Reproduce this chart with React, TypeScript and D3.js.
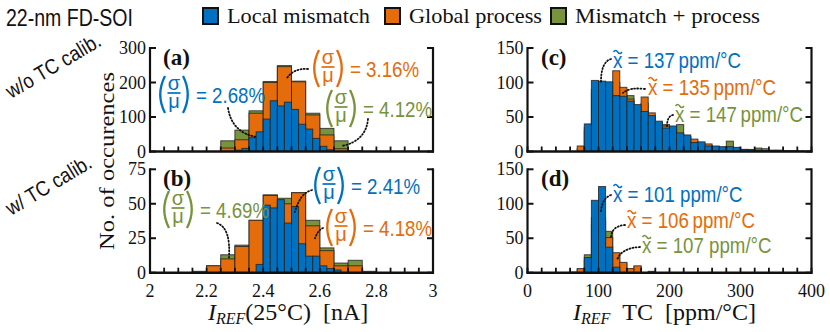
import React from 'react';
import * as d3 from 'd3';

const BLUE = '#0070C0';
const ORANGE = '#E46C0A';
const GREEN = '#77933C';
const SANS = '"Liberation Sans", Arial, sans-serif';
const SERIF = '"Liberation Serif", "Times New Roman", serif';

const legendLabels = ['Local mismatch', 'Global process', 'Mismatch + process'];
const rowLabels = ['w/o TC calib.', 'w/ TC calib.'];

// Panel (a): I_REF(25°C) without TC calibration
const aLocalStart = 2.3;
const aLocalWidth = 0.025;
const aLocal = [4, 9, 40, 57, 94, 147, 132, 143, 122, 79, 65, 38, 15, 5];
const aProcStart = 2.25;
const aProcWidth = 0.05;
const aGlobal = [10, 34, 111, 200, 246, 202, 106, 48, 8, 2];
const aBoth = [31, 62, 118, 203, 249, 204, 111, 67, 31, 2];

// Panel (b): I_REF(25°C) with TC calibration
const bLocalStart = 2.375;
const bLocalWidth = 0.025;
const bLocal = [6, 49, 47, 53, 36, 48, 21, 12, 12, 5, 3, 2];
const bGlobalStart = 2.2;
const bGlobal = [5, 10, 19, 38, 56, 50, 58, 34, 16, 5, 5];
const bBothStart = 2.15;
const bBoth = [1, 5, 13, 20, 38, 56.5, 54, 58, 38, 18, 7, 9, 1];
const bProcWidth = 0.05;

// Panel (c): TC without calibration (10 ppm/°C bins from 70)
const cStart = 70;
const cWidth = 10;
const cLocal = [0, 40, 103, 102, 101, 81, 80, 73, 68, 58, 52, 44, 34, 37, 27, 24, 13, 14, 8, 8, 7, 7, 6, 3, 2, 2, 1, 1, 1, 1, 0, 0];
const cGlobal = [8, 35, 90, 95, 97, 117, 93, 76, 65, 79, 56, 40, 37, 30, 25, 20, 18, 10, 11, 6, 5, 5, 4, 2, 2, 1, 1, 1, 1, 0, 1, 0];
const cBoth = [4, 30, 85, 90, 95, 100, 90, 81, 66, 70, 50, 42, 39, 35, 39, 22, 15, 12, 9, 7, 6, 15, 5, 3, 3, 5, 4, 2, 2, 1, 1, 1];

// Panel (d): TC with calibration (10 ppm/°C bins from 60)
const dStart = 60;
const dWidth = 10;
const dLocal = [0, 0, 22, 105, 125, 37, 8, 0, 0, 0, 0, 0];
const dGlobal = [0, 6, 18, 70, 80, 51, 29, 15, 6, 10, 0, 2];
const dBoth = [1, 5, 26, 80, 75, 60, 28, 14, 5, 9, 0, 1];

const yTicksA = [0, 100, 200, 300];
const yTicksB = [0, 25, 50, 75];
const yTicksC = [0, 50, 100, 150];
const yTicksD = [0, 50, 100, 150];
const xTicksAB = [2, 2.2, 2.4, 2.6, 2.8, 3];
const xTicksCD = [0, 100, 200, 300, 400];

const sigmaLabels = { a: ['2.68%', '3.16%', '4.12%'], b: ['2.41%', '4.18%', '4.69%'] };
const medianLabels = { c: ['137', '135', '147'], d: ['101', '106', '107'] };

type Scale = d3.ScaleLinear<number, number>;

function binsOf(start: number, width: number, values: number[]) {
  return values.map((v, i) => ({ x0: start + i * width, x1: start + (i + 1) * width, v }));
}

function Bars({ data, x, y, color }: { data: { x0: number; x1: number; v: number }[]; x: Scale; y: Scale; color: string }) {
  return (
    <g>
      {data.filter(d => d.v > 0).map((d, i) => (
        <rect key={i} x={x(d.x0)} y={y(d.v)} width={x(d.x1) - x(d.x0)} height={y(0) - y(d.v)}
          fill={color} stroke="#222" strokeOpacity={0.8} strokeWidth={1} />
      ))}
    </g>
  );
}

function Frame({ x, y, yTicks, minor, xLabels, fmt }: { x: Scale; y: Scale; yTicks: number[]; minor: number[]; xLabels: number[] | null; fmt: (v: number) => string }) {
  const [x0, x1] = x.range();
  const [y0, y1] = y.range();
  const tl = 6;
  return (
    <g>
      {minor.map((v, i) => (
        <line key={'m' + i} x1={x(v)} x2={x(v)} y1={y0} y2={y0 - 5} stroke="#111" strokeWidth={1.8} />
      ))}
      {yTicks.map((v, i) => (
        <g key={'y' + i}>
          <line x1={x0} x2={x0 + tl} y1={y(v)} y2={y(v)} stroke="#111" strokeWidth={2} />
          <line x1={x1} x2={x1 - tl} y1={y(v)} y2={y(v)} stroke="#111" strokeWidth={2} />
          <text x={x0 - 4} y={y(v) + 6} textAnchor="end" fontFamily={SERIF} fontSize={18} fill="#111">{v}</text>
        </g>
      ))}
      <line x1={x0} x2={x0} y1={y0 + 1} y2={y1 - 1} stroke="#111" strokeWidth={2.2} />
      <line x1={x1} x2={x1} y1={y0 + 1} y2={y1 - 1} stroke="#111" strokeWidth={2.2} />
      <line x1={x0 - 1} x2={x1 + 1} y1={y0} y2={y0} stroke="#111" strokeWidth={2.4} />
      {xLabels && xLabels.map((v, i) => (
        <text key={'x' + i} x={x(v)} y={y0 + 24} textAnchor="middle" fontFamily={SERIF} fontSize={18} fill="#111">{fmt(v)}</text>
      ))}
    </g>
  );
}

function SigmaMu({ x, y, color, text }: { x: number; y: number; color: string; text: string }) {
  return (
    <g>
      <path d={`M${x + 7} ${y - 17} Q ${x - 2.5} ${y + 1.5} ${x + 7} ${y + 20}`} stroke={color} strokeWidth={2.3} fill="none" />
      <text x={x + 16} y={y - 3.5} textAnchor="middle" fontFamily={SANS} fontSize={20} fill={color}>σ</text>
      <line x1={x + 9.5} x2={x + 22.5} y1={y} y2={y} stroke={color} strokeWidth={1.7} />
      <text x={x + 16} y={y + 15} textAnchor="middle" fontFamily={SANS} fontSize={20} fill={color}>μ</text>
      <path d={`M${x + 25} ${y - 17} Q ${x + 34.5} ${y + 1.5} ${x + 25} ${y + 20}`} stroke={color} strokeWidth={2.3} fill="none" />
      <g transform={`translate(${x + 38},${y + 9.5}) scale(0.85,1)`}>
        <text fontFamily={SANS} fontSize={22} fill={color}>{'= ' + text}</text>
      </g>
    </g>
  );
}

function Median({ x, y, color, text, sep }: { x: number; y: number; color: string; text: string; sep: string }) {
  return (
    <g>
      <path d={`M${x + 0.5} ${y - 16} q 2 -3.2 4.2 0 t 4.2 0`} stroke={color} strokeWidth={1.5} fill="none" />
      <g transform={`translate(${x},${y}) scale(0.85,1)`}>
        <text fontFamily={SANS} fontSize={22} fill={color}>{'x = ' + text + sep + 'ppm/°C'}</text>
      </g>
    </g>
  );
}

function Leader({ sx, sy, cx, cy, ex, ey }: { sx: number; sy: number; cx: number; cy: number; ex: number; ey: number }) {
  return (
    <path d={`M${sx} ${sy} Q ${cx} ${cy} ${ex} ${ey}`} stroke="#111" strokeWidth={1.8} strokeDasharray="1 2.2" strokeLinecap="round" fill="none" />
  );
}

export default function App() {
  const xA = d3.scaleLinear().domain([2, 3]).range([150, 433]);
  const yA = d3.scaleLinear().domain([0, 300]).range([151.5, 48]);
  const yB = d3.scaleLinear().domain([0, 75]).range([272.7, 169.3]);
  const xC = d3.scaleLinear().domain([0, 400]).range([527.5, 811.5]);
  const yC = d3.scaleLinear().domain([0, 150]).range([151.5, 48]);
  const yD = d3.scaleLinear().domain([0, 150]).range([272.7, 169.3]);

  const minorAB = d3.range(0, 21).map(i => 2 + i * 0.05);
  const minorCD = d3.range(0, 21).map(i => i * 20);
  const fmtAB = (v: number) => String(Math.round(v * 10) / 10);
  const fmtCD = (v: number) => String(v);

  const legendItems = [
    { label: legendLabels[0], color: BLUE, bx: 203, tx: 227, w: 143 },
    { label: legendLabels[1], color: ORANGE, bx: 385, tx: 409, w: 133 },
    { label: legendLabels[2], color: GREEN, bx: 551, tx: 575, w: 185 },
  ];

  return (
    <svg width={830} height={332} style={{ position: 'absolute', left: 0, top: 0, background: '#fff' }}>
      <rect width={830} height={332} fill="#fff" />
      {/* Title */}
      <g transform="translate(6,26) scale(0.85,1)">
        <text fontFamily={SANS} fontSize={23} fill="#111">22-nm FD-SOI</text>
      </g>
      {/* Legend */}
      {legendItems.map((it, i) => (
        <g key={i}>
          <rect x={it.bx} y={8} width={15} height={16} fill={it.color} stroke="#111" strokeWidth={2} />
          <text x={it.tx} y={23} fontFamily={SERIF} fontSize={21} fill="#111" textLength={it.w} lengthAdjust="spacingAndGlyphs">{it.label}</text>
        </g>
      ))}
      {/* Row labels */}
      <g transform="translate(11,99) rotate(-30.5) scale(0.88,1)">
        <text fontFamily={SANS} fontSize={21} fill="#111">{rowLabels[0]}</text>
      </g>
      <g transform="translate(11,216) rotate(-31) scale(0.88,1)">
        <text fontFamily={SANS} fontSize={21} fill="#111">{rowLabels[1]}</text>
      </g>
      {/* Y axis label */}
      <text transform="translate(114,161) rotate(-90)" textAnchor="middle" fontFamily={SERIF} fontSize={22} fill="#111" textLength={178} lengthAdjust="spacingAndGlyphs">No. of occurences</text>

      {/* Panel (a) */}
      <Bars data={binsOf(aProcStart, aProcWidth, aBoth)} x={xA} y={yA} color={GREEN} />
      <Bars data={binsOf(aProcStart, aProcWidth, aGlobal)} x={xA} y={yA} color={ORANGE} />
      <Bars data={binsOf(aLocalStart, aLocalWidth, aLocal)} x={xA} y={yA} color={BLUE} />
      <Frame x={xA} y={yA} yTicks={yTicksA} minor={minorAB} xLabels={null} fmt={fmtAB} />

      {/* Panel (b) */}
      <Bars data={binsOf(bBothStart, bProcWidth, bBoth)} x={xA} y={yB} color={GREEN} />
      <Bars data={binsOf(bGlobalStart, bProcWidth, bGlobal)} x={xA} y={yB} color={ORANGE} />
      <Bars data={binsOf(bLocalStart, bLocalWidth, bLocal)} x={xA} y={yB} color={BLUE} />
      <Frame x={xA} y={yB} yTicks={yTicksB} minor={minorAB} xLabels={xTicksAB} fmt={fmtAB} />

      {/* Panel (c) */}
      <Bars data={binsOf(cStart, cWidth, cBoth)} x={xC} y={yC} color={GREEN} />
      <Bars data={binsOf(cStart, cWidth, cGlobal)} x={xC} y={yC} color={ORANGE} />
      <Bars data={binsOf(cStart, cWidth, cLocal)} x={xC} y={yC} color={BLUE} />
      <Frame x={xC} y={yC} yTicks={yTicksC} minor={minorCD} xLabels={null} fmt={fmtCD} />

      {/* Panel (d) */}
      <Bars data={binsOf(dStart, dWidth, dBoth)} x={xC} y={yD} color={GREEN} />
      <Bars data={binsOf(dStart, dWidth, dGlobal)} x={xC} y={yD} color={ORANGE} />
      <Bars data={binsOf(dStart, dWidth, dLocal)} x={xC} y={yD} color={BLUE} />
      <Frame x={xC} y={yD} yTicks={yTicksD} minor={minorCD} xLabels={xTicksCD} fmt={fmtCD} />

      {/* Panel letters */}
      <text x={163} y={65} fontFamily={SERIF} fontWeight="bold" fontSize={23} fill="#111">(a)</text>
      <text x={163} y={186} fontFamily={SERIF} fontWeight="bold" fontSize={23} fill="#111">(b)</text>
      <text x={541} y={65} fontFamily={SERIF} fontWeight="bold" fontSize={23} fill="#111">(c)</text>
      <text x={541} y={186} fontFamily={SERIF} fontWeight="bold" fontSize={23} fill="#111">(d)</text>

      {/* Leaders (a) */}
      <Leader sx={228} sy={108} cx={232} cy={133} ex={xA(2.378)} ey={yA(42)} />
      <Leader sx={308} sy={69} cx={294} cy={68} ex={xA(2.484)} ey={yA(213)} />
      <Leader sx={368} sy={119} cx={366} cy={141} ex={xA(2.678)} ey={yA(16)} />
      {/* Leaders (b) */}
      <Leader sx={217} sy={223} cx={231} cy={228} ex={xA(2.279)} ey={yB(11)} />
      <Leader sx={312} sy={190} cx={300} cy={193} ex={xA(2.512)} ey={yB(44)} />
      <Leader sx={323} sy={228} cx={318} cy={230} ex={xA(2.583)} ey={yB(25)} />
      {/* Leaders (c) */}
      <Leader sx={611} sy={59} cx={601} cy={62} ex={xC(103.5)} ey={yC(101)} />
      <Leader sx={645} sy={89} cx={630} cy={87} ex={xC(134.5)} ey={yC(85)} />
      <Leader sx={673} sy={115} cx={667} cy={116} ex={xC(196.5)} ey={yC(36)} />
      {/* Leaders (d) */}
      <Leader sx={611} sy={195} cx={602} cy={198} ex={xC(103.5)} ey={yD(88)} />
      <Leader sx={625} sy={225} cx={612} cy={226} ex={xC(117.6)} ey={yD(52)} />
      <Leader sx={640} sy={247} cx={621} cy={248} ex={xC(126)} ey={yD(18)} />

      {/* Annotations (a) */}
      <SigmaMu x={158} y={93} color={BLUE} text={sigmaLabels.a[0]} />
      <SigmaMu x={312} y={67} color={ORANGE} text={sigmaLabels.a[1]} />
      <SigmaMu x={325} y={107} color={GREEN} text={sigmaLabels.a[2]} />
      {/* Annotations (b) */}
      <SigmaMu x={313} y={184} color={BLUE} text={sigmaLabels.b[0]} />
      <SigmaMu x={325} y={226} color={ORANGE} text={sigmaLabels.b[1]} />
      <SigmaMu x={162} y={208} color={GREEN} text={sigmaLabels.b[2]} />
      {/* Annotations (c) */}
      <Median x={613} y={68} color={BLUE} text={medianLabels.c[0]} sep={'\u2009'} />
      <Median x={648} y={95} color={ORANGE} text={medianLabels.c[1]} sep={'\u2009'} />
      <Median x={675} y={122} color={GREEN} text={medianLabels.c[2]} sep={'\u2009'} />
      {/* Annotations (d) */}
      <Median x={613} y={202} color={BLUE} text={medianLabels.d[0]} sep={' '} />
      <Median x={627} y={228} color={ORANGE} text={medianLabels.d[1]} sep={'\u2009'} />
      <Median x={642} y={253} color={GREEN} text={medianLabels.d[2]} sep={' '} />

      {/* X axis labels */}
      <text x={208} y={320} fontFamily={SERIF} fontSize={24} fill="#111">
        <tspan fontStyle="italic">I</tspan>
        <tspan fontStyle="italic" fontSize={16} dy={4}>REF</tspan>
        <tspan dy={-4}>(25°C)</tspan>
        <tspan>{'\u2002[nA]'}</tspan>
      </text>
      <text x={573} y={320} fontFamily={SERIF} fontSize={24} fill="#111">
        <tspan fontStyle="italic">I</tspan>
        <tspan fontStyle="italic" fontSize={16} dy={4}>REF</tspan>
        <tspan dy={-4}>{'\u2002TC\u2002[ppm/°C]'}</tspan>
      </text>
    </svg>
  );
}
